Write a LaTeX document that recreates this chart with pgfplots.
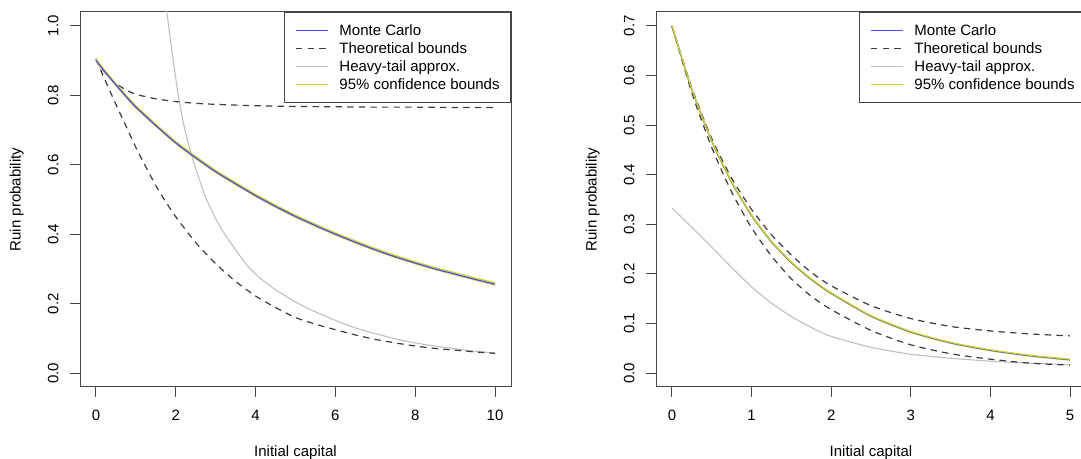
\documentclass[border=0pt]{standalone}
\usepackage{fontspec}
\setmainfont{Liberation Sans}
\usepackage{pgfplots}
\pgfplotsset{compat=1.18}

\definecolor{mcblue}{RGB}{75,75,255}
\definecolor{ciyellow}{RGB}{205,212,40}
\definecolor{bounddark}{RGB}{60,60,60}
\definecolor{heavygrey}{RGB}{192,192,192}
\definecolor{framegrey}{RGB}{70,70,70}

\newcommand{\labelfont}{\fontsize{7.5}{9}\selectfont}

\pgfplotsset{
  ruinaxis/.style={
    scale only axis, width=215.5pt, height=187.5pt, anchor=south west,
    axis line style={framegrey, line width=0.5pt},
    tick style={framegrey, line width=0.5pt},
    tick align=outside, major tick length=5pt,
    xtick pos=bottom, ytick pos=left,
    tick label style={font=\labelfont},
    xticklabel shift=6.5pt,
    xticklabel style={inner sep=0pt, anchor=north},
    yticklabel style={inner sep=0pt, xshift=-5.5pt, rotate=90, anchor=south},
    legend cell align=left,
    legend style={
      at={(rel axis cs:1,1)}, anchor=north east,
      draw=framegrey, line width=0.5pt, fill=white,
      inner xsep=5.45pt, inner ysep=5pt,
      row sep=1pt, column sep=5.5pt,
      font=\labelfont,
      nodes={inner sep=0pt, text height=6.5pt, text depth=1.5pt},
    },
  },
  mc/.style={mcblue, line width=0.6pt},
  ci/.style={ciyellow, line width=0.6pt},
  bound/.style={bounddark, line width=0.6pt, dash pattern=on 3.2pt off 2.6pt},
  heavy/.style={heavygrey, line width=0.55pt},
  % legend samples: a short straight stroke in the series' own style
  mc key/.style={legend image code/.code={\draw[mcblue, line width=0.7pt] (0pt,0pt) -- (15.9pt,0pt);}},
  bound key/.style={legend image code/.code={\draw[bounddark, line width=0.6pt, dash pattern=on 3.2pt off 2.6pt] (0pt,0pt) -- (15.9pt,0pt);}},
  heavy key/.style={legend image code/.code={\draw[heavygrey, line width=0.7pt] (0pt,0pt) -- (15.9pt,0pt);}},
  ci key/.style={legend image code/.code={\draw[ciyellow, line width=0.7pt] (0pt,0pt) -- (15.9pt,0pt);}},
}

\newcommand{\ruinlegend}{%
  \addlegendimage{mc key}\addlegendentry{Monte Carlo}
  \addlegendimage{bound key}\addlegendentry{Theoretical bounds}
  \addlegendimage{heavy key}\addlegendentry{Heavy-tail approx.}
  \addlegendimage{ci key}\addlegendentry{95\% confidence bounds}}

\begin{document}
\begin{tikzpicture}

% ---------------- left panel ----------------
\begin{axis}[ruinaxis, at={(40pt,36pt)},
  xmin=-0.4, xmax=10.4, ymin=-0.04, ymax=1.04,
  xtick={0,2,4,6,8,10}, xticklabels={0,2,4,6,8,10},
  ytick={0,0.2,0.4,0.6,0.8,1}, yticklabels={0.0,0.2,0.4,0.6,0.8,1.0}]

% heavy-tail approximation
\addplot[heavy, smooth, tension=0.4, forget plot] coordinates {
 (1.70,1.100) (1.78,1.036) (1.90,0.930) (2.08,0.787) (2.25,0.690) (2.43,0.614)
 (2.60,0.555) (2.77,0.500) (3.00,0.445) (3.21,0.403) (3.50,0.355) (3.81,0.307)
 (4.10,0.275) (4.50,0.240) (5.00,0.205) (5.37,0.183) (6.00,0.152) (6.50,0.130)
 (7.00,0.114) (7.53,0.098) (8.00,0.087) (8.50,0.078) (9.00,0.070) (9.50,0.063)
 (10.00,0.058)};

% theoretical bounds
\addplot[bound, smooth, tension=0.4, forget plot] coordinates {
 (0,0.905) (0.1,0.885) (0.25,0.862) (0.5,0.834) (0.75,0.816) (1,0.803) (1.5,0.790)
 (2,0.782) (2.5,0.777) (3,0.774) (4,0.770) (5,0.768) (6,0.767) (7,0.766) (8,0.766)
 (9,0.765) (10,0.765)};
\addplot[bound, smooth, tension=0.4, forget plot] coordinates {
 (0,0.905) (0.25,0.838) (0.5,0.774) (0.75,0.712) (1,0.650) (1.25,0.594) (1.5,0.540)
 (1.75,0.493) (2,0.450) (2.5,0.376) (3,0.315) (3.5,0.264) (4,0.222) (4.5,0.189)
 (5,0.160) (5.5,0.141) (6,0.125) (6.5,0.110) (7,0.097) (7.5,0.087) (8,0.078)
 (8.5,0.071) (9,0.066) (9.5,0.061) (10,0.057)};

% 95% confidence bounds and Monte Carlo estimate
\addplot[ci, smooth, tension=0.4, forget plot] coordinates {
 (0,0.898) (0.25,0.862) (0.5,0.828) (0.75,0.795) (1,0.764) (1.5,0.711) (2,0.661)
 (2.5,0.618) (3,0.578) (3.5,0.543) (4,0.509) (4.5,0.478) (5,0.449) (5.5,0.423)
 (6,0.398) (6.5,0.375) (7,0.353) (7.5,0.333) (8,0.315) (8.5,0.298) (9,0.283)
 (9.5,0.268) (10,0.254)};
\addplot[ci, smooth, tension=0.4, forget plot] coordinates {
 (0,0.904) (0.25,0.868) (0.5,0.834) (0.75,0.801) (1,0.770) (1.5,0.717) (2,0.667)
 (2.5,0.624) (3,0.584) (3.5,0.549) (4,0.515) (4.5,0.484) (5,0.455) (5.5,0.429)
 (6,0.404) (6.5,0.381) (7,0.359) (7.5,0.339) (8,0.321) (8.5,0.304) (9,0.289)
 (9.5,0.274) (10,0.260)};
\addplot[mc, smooth, tension=0.4, forget plot] coordinates {
 (0,0.900) (0.25,0.864) (0.5,0.830) (0.75,0.797) (1,0.766) (1.5,0.713) (2,0.663)
 (2.5,0.620) (3,0.580) (3.5,0.545) (4,0.511) (4.5,0.480) (5,0.451) (5.5,0.425)
 (6,0.400) (6.5,0.377) (7,0.355) (7.5,0.335) (8,0.317) (8.5,0.300) (9,0.285)
 (9.5,0.270) (10,0.256)};

\ruinlegend
\end{axis}

% ---------------- right panel ----------------
\begin{axis}[ruinaxis, at={(328pt,36pt)}, width=215pt,
  xmin=-0.2, xmax=5.2, ymin=-0.028, ymax=0.728,
  xtick={0,1,2,3,4,5}, xticklabels={0,1,2,3,4,5},
  ytick={0,0.1,0.2,0.3,0.4,0.5,0.6,0.7},
  yticklabels={0.0,0.1,0.2,0.3,0.4,0.5,0.6,0.7}]

% heavy-tail approximation
\addplot[heavy, smooth, tension=0.4, forget plot] coordinates {
 (0,0.333) (0.25,0.294) (0.5,0.254) (0.75,0.213) (1,0.174) (1.25,0.141) (1.5,0.114)
 (1.75,0.092) (2,0.074) (2.5,0.052) (3,0.038) (3.5,0.030) (4,0.024) (4.5,0.020)
 (5,0.017)};

% theoretical bounds
\addplot[bound, smooth, tension=0.4, forget plot] coordinates {
 (0,0.700) (0.25,0.575) (0.5,0.473) (0.75,0.393) (1,0.330) (1.25,0.279) (1.5,0.238)
 (1.75,0.203) (2,0.176) (2.5,0.136) (3,0.110) (3.5,0.094) (4,0.085) (4.5,0.079)
 (5,0.075)};
\addplot[bound, smooth, tension=0.4, forget plot] coordinates {
 (0,0.700) (0.25,0.565) (0.5,0.455) (0.75,0.365) (1,0.293) (1.25,0.236) (1.5,0.190)
 (1.75,0.155) (2,0.128) (2.5,0.086) (3,0.057) (3.5,0.039) (4,0.028) (4.5,0.020)
 (5,0.016)};

% 95% confidence bounds and Monte Carlo estimate
\addplot[ci, smooth, tension=0.4, forget plot] coordinates {
 (0,0.699) (0.25,0.571) (0.5,0.467) (0.75,0.384) (1,0.317) (1.25,0.264) (1.5,0.222)
 (1.75,0.188) (2,0.160) (2.5,0.114) (3,0.082) (3.5,0.060) (4,0.045) (4.5,0.034)
 (5,0.026)};
\addplot[mc, smooth, tension=0.4, forget plot] coordinates {
 (0,0.700) (0.25,0.572) (0.5,0.468) (0.75,0.385) (1,0.318) (1.25,0.265) (1.5,0.223)
 (1.75,0.189) (2,0.161) (2.5,0.115) (3,0.083) (3.5,0.061) (4,0.046) (4.5,0.035)
 (5,0.027)};
\addplot[ci, smooth, tension=0.4, forget plot] coordinates {
 (0,0.701) (0.25,0.573) (0.5,0.469) (0.75,0.386) (1,0.319) (1.25,0.266) (1.5,0.224)
 (1.75,0.190) (2,0.162) (2.5,0.116) (3,0.084) (3.5,0.062) (4,0.047) (4.5,0.036)
 (5,0.028)};

\ruinlegend
\end{axis}

% axis titles
\node[font=\labelfont, anchor=base] at (147.75pt,1.2pt) {Initial capital};
\node[font=\labelfont, anchor=base] at (435.5pt,1.2pt) {Initial capital};
\node[font=\labelfont, rotate=90, inner sep=0pt] at (8.35pt,129.75pt) {Ruin probability};
\node[font=\labelfont, rotate=90, inner sep=0pt] at (296.35pt,129.75pt) {Ruin probability};

\pgfresetboundingbox
\path[use as bounding box] (0,0) rectangle (540.5pt,229.5pt);
\end{tikzpicture}
\end{document}
